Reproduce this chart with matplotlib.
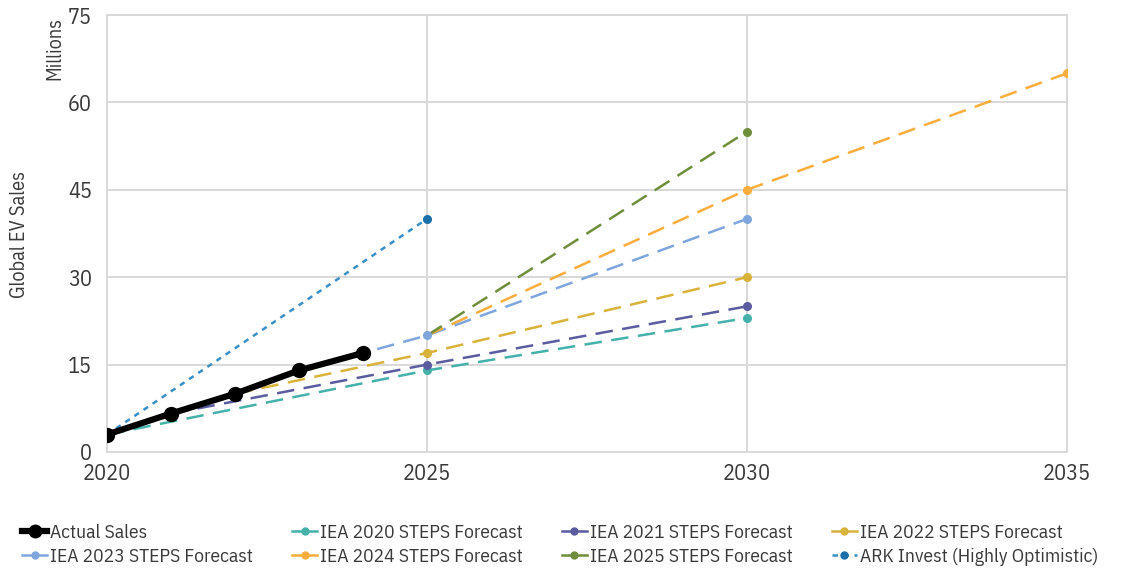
import matplotlib
matplotlib.use("Agg")
import matplotlib.pyplot as plt
from matplotlib.lines import Line2D

plt.rcParams['font.family'] = ['IBM Plex Sans Condensed', 'DejaVu Sans']

# Actual global EV sales (millions)
actual_years = [2020, 2021, 2022, 2023, 2024]
actual_sales = [3, 6.6, 10, 14, 17]

# IEA STEPS forecasts (first point is the anchor the forecast grows from)
iea2020_years = [2020, 2025, 2030]
iea2020_vals = [3, 14, 23]
iea2021_years = [2021, 2025, 2030]
iea2021_vals = [6.6, 15, 25]
iea2022_years = [2022, 2025, 2030]
iea2022_vals = [10, 17, 30]
iea2023_years = [2023, 2025, 2030]
iea2023_vals = [14, 20, 40]
iea2024_years = [2025, 2030, 2035]
iea2024_vals = [20, 45, 65]
iea2025_years = [2025, 2030]
iea2025_vals = [20, 55]

# ARK Invest projection
ark_years = [2020, 2025]
ark_vals = [3, 40]

x_ticks = [2020, 2025, 2030, 2035]
y_ticks = [0, 15, 30, 45, 60, 75]

text_color = '#3a3a3a'
grid_color = '#d9d9d9'

fig = plt.figure(figsize=(11.3, 5.69), dpi=100)
ax = fig.add_axes([107 / 1130, 1 - 452 / 569, 960 / 1130, 437 / 569])

ax.set_xlim(2020, 2035)
ax.set_ylim(0, 75)
ax.set_xticks(x_ticks)
ax.set_yticks(y_ticks)
ax.grid(True, color=grid_color, lw=1.4)
ax.set_axisbelow(True)
for s in ax.spines.values():
    s.set_color(grid_color)
    s.set_linewidth(1.4)
ax.tick_params(length=0, labelsize=16, colors=text_color, pad=11)
ax.tick_params(axis='x', pad=8)

forecasts = [
    ('IEA 2020 STEPS Forecast', iea2020_years, iea2020_vals, '#45b1aa'),
    ('IEA 2021 STEPS Forecast', iea2021_years, iea2021_vals, '#5b5ba0'),
    ('IEA 2022 STEPS Forecast', iea2022_years, iea2022_vals, '#d8b23a'),
    ('IEA 2023 STEPS Forecast', iea2023_years, iea2023_vals, '#7ea6dc'),
    ('IEA 2024 STEPS Forecast', iea2024_years, iea2024_vals, '#f9ad3d'),
    ('IEA 2025 STEPS Forecast', iea2025_years, iea2025_vals, '#6f8e3b'),
]

handles = {}
for label, xs, ys, color in forecasts:
    ax.plot(xs, ys, color=color, lw=1.8, dashes=(7, 3.8), zorder=3)
    ax.plot(xs[1:], ys[1:], 'o', color=color, ms=5.5, zorder=4)
    handles[label] = Line2D([], [], color=color, lw=1.8, marker='o', ms=5)

ax.plot(ark_years, ark_vals, color='#3a8fc6', lw=1.8, dashes=(2.2, 2.2), zorder=3)
ax.plot(ark_years[1:], ark_vals[1:], 'o', color='#1a6fa8', ms=5.5, zorder=4)
handles['ARK Invest (Highly Optimistic)'] = Line2D([], [], color='#3a8fc6', lw=1.8,
                                                   dashes=(2.2, 2.2), marker='o', ms=5,
                                                   markerfacecolor='#1a6fa8',
                                                   markeredgecolor='#1a6fa8')

ax.plot(actual_years, actual_sales, color='black', lw=4.5, marker='o', ms=10,
        zorder=5, solid_capstyle='round')
handles['Actual Sales'] = Line2D([], [], color='black', lw=4.5, marker='o', ms=9)

fig.text(55 / 1130, 1 - 17 / 569, 'Millions', rotation=90,
         ha='center', va='top', fontsize=14.5, color=text_color)
fig.text(20 / 1130, 1 - 235 / 569, 'Global EV Sales', rotation=90,
         ha='center', va='center', fontsize=14.5, color=text_color)

order = ['Actual Sales', 'IEA 2023 STEPS Forecast',
         'IEA 2020 STEPS Forecast', 'IEA 2024 STEPS Forecast',
         'IEA 2021 STEPS Forecast', 'IEA 2025 STEPS Forecast',
         'IEA 2022 STEPS Forecast', 'ARK Invest (Highly Optimistic)']
leg = fig.legend([handles[k] for k in order], order, ncol=4,
                 loc='lower left', bbox_to_anchor=(19 / 1130, 0.0),
                 frameon=False, fontsize=14, handlelength=1.3,
                 handletextpad=0.15, columnspacing=2.0, labelspacing=0.3,
                 borderaxespad=0.0, borderpad=0.15)
for t in leg.get_texts():
    t.set_color(text_color)

fig.savefig('out.png', dpi=100, facecolor='white')
